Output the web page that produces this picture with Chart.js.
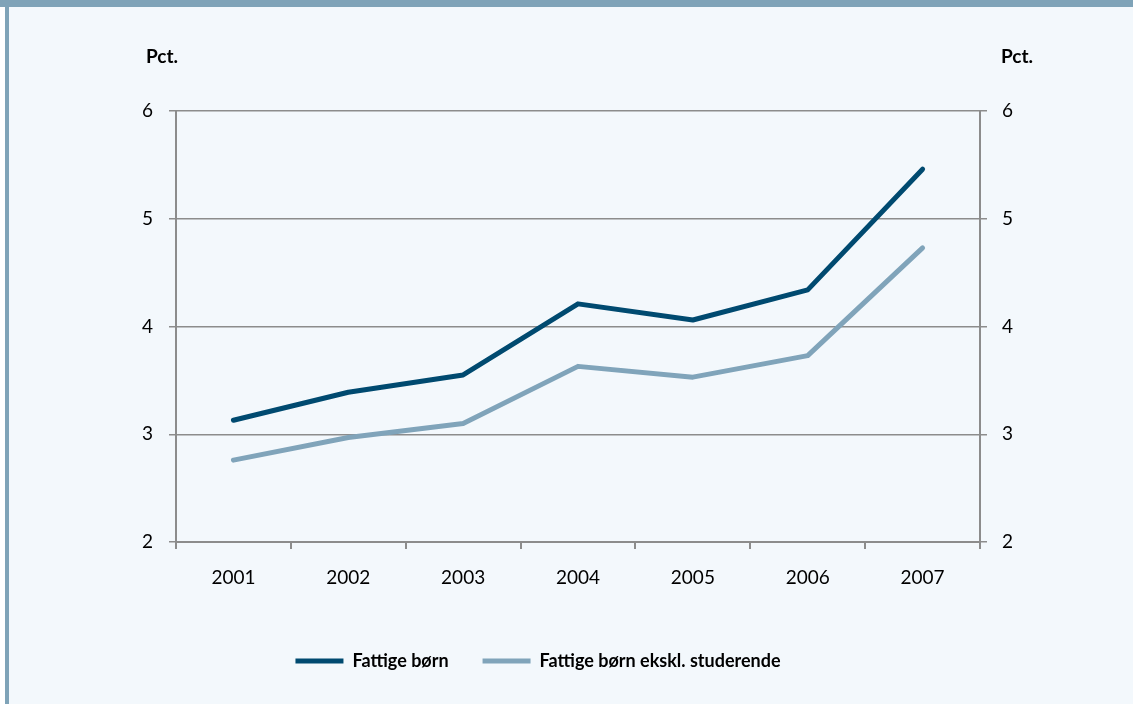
<!DOCTYPE html>
<html lang="da">
<head>
<meta charset="UTF-8">
<title>Fattige børn</title>
<style>
  html, body { margin: 0; padding: 0; }
  body { width: 1133px; height: 704px; background: #f3f8fc; position: relative; overflow: hidden; }
  .topbar { position: absolute; left: 0; top: 0; width: 1133px; height: 7px; background: #7fa3b8; }
  .leftbar { position: absolute; left: 5px; top: 7px; width: 4px; height: 697px; background: #7fa3b8; }
  .leftgap { position: absolute; left: 0; top: 7px; width: 5px; height: 697px; background: #ffffff; }
  #chart { position: absolute; left: 0; top: 0; }
</style>
</head>
<body>
<div class="topbar"></div>
<div class="leftgap"></div>
<div class="leftbar"></div>
<canvas id="chart" width="1133" height="704"></canvas>
<script src="https://cdn.jsdelivr.net/npm/chart.js"></script>
<script>
  const years = ['2001', '2002', '2003', '2004', '2005', '2006', '2007'];
  const fattige = [3.13, 3.39, 3.55, 4.21, 4.06, 4.34, 5.46];
  const fattigeEksklStud = [2.76, 2.97, 3.10, 3.63, 3.53, 3.73, 4.73];
  const yTicks = [2, 3, 4, 5, 6];

  const axisGrey = '#8c8c8c';
  const font = 'Lato';

  // "Pct." over both y axes
  const pctLabels = {
    id: 'pctLabels',
    afterDraw(chart) {
      const { ctx, chartArea } = chart;
      ctx.save();
      ctx.font = 'bold 19px ' + font;
      ctx.fillStyle = '#000';
      ctx.textAlign = 'center';
      ctx.textBaseline = 'middle';
      ctx.fillText('Pct.', chartArea.left - 14, 57);
      ctx.fillText('Pct.', chartArea.right + 37, 57);
      ctx.restore();
    }
  };

  const tickFont = { family: font, size: 19 };

  new Chart(document.getElementById('chart'), {
    type: 'line',
    data: {
      labels: years,
      datasets: [{
        label: 'Fattige børn',
        data: fattige,
        borderColor: '#004a70',
        backgroundColor: '#004a70',
        borderWidth: 5,
        borderCapStyle: 'round',
        borderJoinStyle: 'round',
        pointRadius: 0,
        tension: 0
      }, {
        label: 'Fattige børn ekskl. studerende',
        data: fattigeEksklStud,
        borderColor: '#80a4ba',
        backgroundColor: '#80a4ba',
        borderWidth: 5,
        borderCapStyle: 'round',
        borderJoinStyle: 'round',
        pointRadius: 0,
        tension: 0
      }]
    },
    options: {
      responsive: false,
      animation: false,
      devicePixelRatio: 1,
      layout: { padding: { top: 111, left: 0, right: 57, bottom: 24 } },
      plugins: {
        tooltip: { enabled: false },
        legend: {
          position: 'bottom',
          labels: {
            usePointStyle: true,
            pointStyle: 'line',
            pointStyleWidth: 48,
            padding: 34,
            color: '#000',
            font: { family: font, size: 18, weight: 'bold' }
          }
        }
      },
      scales: {
        x: {
          offset: true,
          grid: { offset: true, drawOnChartArea: false, drawTicks: true, tickLength: 7, color: axisGrey, lineWidth: 2 },
          border: { display: true, color: axisGrey, width: 2 },
          ticks: { color: '#000', font: tickFont, padding: 17, maxRotation: 0 },
          afterFit(scale) { scale.height = 76; }
        },
        y: {
          position: 'left',
          min: 2,
          max: 6,
          afterBuildTicks(scale) { scale.ticks = yTicks.map(v => ({ value: v })); },
          grid: { color: axisGrey, lineWidth: 1.5, tickLength: 7 },
          border: { display: true, color: axisGrey, width: 2 },
          ticks: { color: '#000', font: tickFont, padding: 16 },
          afterFit(scale) { scale.width = 176; }
        },
        y2: {
          position: 'right',
          min: 2,
          max: 6,
          afterBuildTicks(scale) { scale.ticks = yTicks.map(v => ({ value: v })); },
          grid: { drawOnChartArea: false, color: axisGrey, lineWidth: 1.5, tickLength: 7 },
          border: { display: true, color: axisGrey, width: 2 },
          ticks: { color: '#000', font: tickFont, padding: 15 },
          afterFit(scale) { scale.width = 96; }
        }
      }
    },
    plugins: [pctLabels]
  });
</script>
</body>
</html>
